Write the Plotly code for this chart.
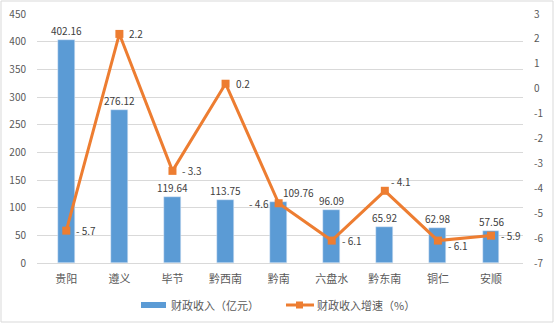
import plotly.graph_objects as go

# Regional fiscal revenue and growth rate
regions = ["贵阳", "遵义", "毕节", "黔西南", "黔南", "六盘水", "黔东南", "铜仁", "安顺"]
revenue = [402.16, 276.12, 119.64, 113.75, 109.76, 96.09, 65.92, 62.98, 57.56]
growth = [-5.7, 2.2, -3.3, 0.2, -4.6, -6.1, -4.1, -6.1, -5.9]

left_ticks = [0, 50, 100, 150, 200, 250, 300, 350, 400, 450]
right_ticks = [3, 2, 1, 0, -1, -2, -3, -4, -5, -6, -7]

bar_name = "财政收入（亿元）"
line_name = "财政收入增速（%）"

BLUE = "#5B9BD5"
ORANGE = "#ED7D31"
FONT = "Noto Sans CJK SC"

W, H = 554, 323
ML, MR, MT, MB = 37, 31, 14, 60
PW, PH = W - ML - MR, H - MT - MB


def px_x(p):
    return (p - ML) / PW


def px_y(p):
    return (H - MB - p) / PH


fig = go.Figure()
fig.add_trace(go.Bar(x=regions, y=revenue, marker_color=BLUE, width=0.32,
                     name=bar_name, yaxis="y"))
fig.add_trace(go.Scatter(x=regions, y=growth, mode="lines+markers", name=line_name,
                         line=dict(color=ORANGE, width=3),
                         marker=dict(symbol="square", size=8, color=ORANGE),
                         yaxis="y2"))

annotations = []
# bar value labels
bar_shift = [0, 0, 0, 0, 20, 0, 0, 0, 0]
for r, v, dx in zip(regions, revenue, bar_shift):
    annotations.append(dict(x=r, y=v, xref="x", yref="y", text=f"{v:.2f}",
                            showarrow=False, yanchor="bottom", xshift=dx, yshift=0,
                            font=dict(family=FONT, size=10, color="#404040")))
# growth labels
pos = [("left", 8, 0), ("left", 8, 0), ("left", 8, 0), ("left", 8, 0),
       ("right", -8, 0), ("left", 8, 0), ("left", 4, 9), ("left", 8, -5), ("left", 8, 0)]
for r, g, (anc, dx, dy) in zip(regions, growth, pos):
    annotations.append(dict(x=r, y=g, xref="x", yref="y2", text=f"{g:g}".replace("-", "- "),
                            showarrow=False, xanchor=anc, xshift=dx, yshift=dy,
                            font=dict(family=FONT, size=10, color="#404040")))

# legend
annotations.append(dict(x=px_x(169), y=px_y(305), xref="paper", yref="paper", text=bar_name,
                        showarrow=False, xanchor="left", yanchor="middle",
                        font=dict(family=FONT, size=11, color="#595959")))
annotations.append(dict(x=px_x(315), y=px_y(305), xref="paper", yref="paper", text=line_name,
                        showarrow=False, xanchor="left", yanchor="middle",
                        font=dict(family=FONT, size=11, color="#595959")))

shapes = [
    dict(type="rect", xref="paper", yref="paper", x0=px_x(141), x1=px_x(166),
         y0=px_y(308), y1=px_y(302), fillcolor=BLUE, line=dict(width=0)),
    dict(type="line", xref="paper", yref="paper", x0=px_x(286), x1=px_x(314),
         y0=px_y(305), y1=px_y(305), line=dict(color=ORANGE, width=3)),
    dict(type="rect", xref="paper", yref="paper", x0=px_x(296), x1=px_x(303),
         y0=px_y(308.5), y1=px_y(301.5), fillcolor=ORANGE, line=dict(width=0)),
    dict(type="rect", xref="paper", yref="paper", x0=px_x(1), x1=px_x(W - 1),
         y0=px_y(H - 1), y1=px_y(1), line=dict(color="#D9D9D9", width=1),
         fillcolor="rgba(0,0,0,0)", layer="below"),
]

fig.update_layout(
    width=W, height=H,
    margin=dict(l=ML, r=MR, t=MT, b=MB, autoexpand=False),
    paper_bgcolor="white", plot_bgcolor="white",
    showlegend=False, bargap=0,
    font=dict(family=FONT, size=10, color="#595959"),
    xaxis=dict(showgrid=False, showline=True, linecolor="#D9D9D9", linewidth=1,
               ticks="", ticklabelstandoff=6, automargin=False,
               tickfont=dict(size=11, color="#595959")),
    yaxis=dict(range=[0, 450], tickvals=left_ticks, showgrid=True, gridcolor="#D9D9D9",
               zeroline=False, ticks="", ticklabelstandoff=10, automargin=False,
               tickfont=dict(size=10, color="#595959")),
    yaxis2=dict(range=[-7, 3], tickvals=right_ticks, ticktext=[str(t) for t in right_ticks],
                overlaying="y", side="right", automargin=False,
                showgrid=False, zeroline=False, ticks="", ticklabelstandoff=10,
                tickfont=dict(size=10, color="#595959")),
    annotations=annotations, shapes=shapes,
)

fig.write_html("out.html")
